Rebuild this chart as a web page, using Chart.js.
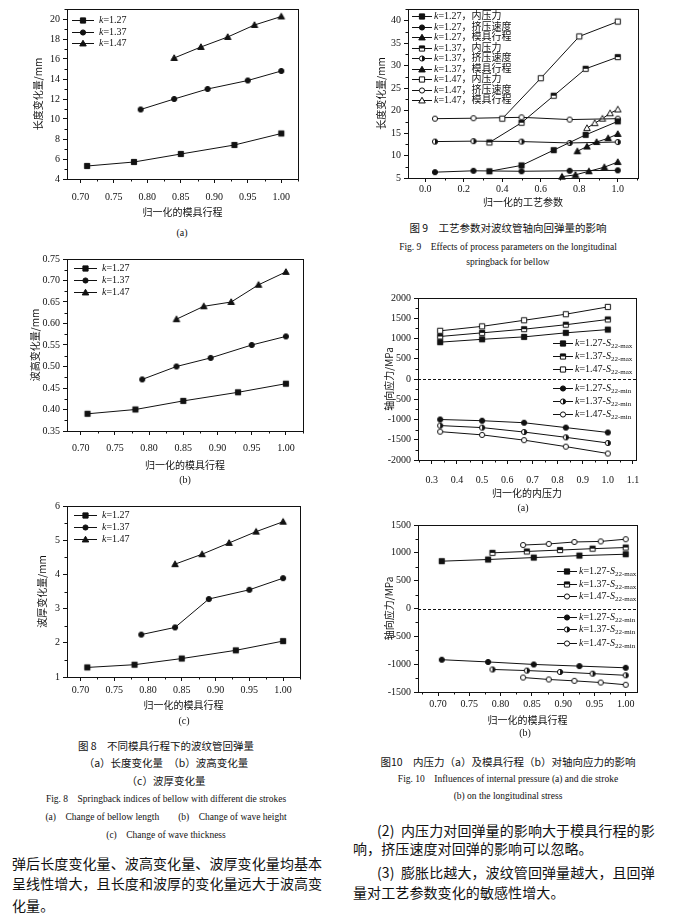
<!DOCTYPE html>
<html>
<head>
<meta charset="utf-8">
<script src="https://cdn.jsdelivr.net/npm/chart.js@4.4.0/dist/chart.umd.min.js"></script>
<style>
  body {
    margin: 0;
    width: 679px;
    height: 924px;
    position: relative;
    overflow: hidden;
    background: #fff;
    color: #111;
    font-family: 'Liberation Serif', 'Noto Sans CJK SC', serif;
  }
  canvas.chart { position: absolute; }
  .t { position: absolute; white-space: nowrap; transform: translateX(-50%); line-height: 12px; }
  .cap-cn { font-family: 'Noto Sans CJK SC', sans-serif; font-size: 10.5px; }
  .cap-en { font-size: 9.5px; }
  .sub { font-size: 10px; }
  .para { position: absolute; white-space: nowrap; font-family: 'Noto Sans CJK SC', sans-serif; font-size: 14px; line-height: 16px; letter-spacing: 0.1px; }
  .legend-item { position: absolute; display: flex; align-items: center; height: 12px; font-size: 10px; line-height: 12px; white-space: nowrap; }
  .legend-item canvas { display: block; }
  .legend-item sub { font-size: 7px; vertical-align: -2px; line-height: 0; }
</style>
</head>
<body>
<canvas class="chart" id="fig8a" width="330" height="222" style="left:0;top:0"></canvas>
<canvas class="chart" id="fig8b" width="330" height="240" style="left:0;top:240px"></canvas>
<canvas class="chart" id="fig8c" width="330" height="230" style="left:0;top:487px"></canvas>
<canvas class="chart" id="fig9" width="339" height="215" style="left:340px;top:0"></canvas>
<canvas class="chart" id="fig10a" width="339" height="220" style="left:340px;top:283px"></canvas>
<canvas class="chart" id="fig10b" width="339" height="218" style="left:340px;top:512px"></canvas>

<div class="t sub" style="left:182px;top:227px">(a)</div>
<div class="t sub" style="left:185px;top:474px">(b)</div>
<div class="t sub" style="left:184px;top:715px">(c)</div>

<div class="t cap-cn" style="left:166px;top:740px">图 8　不同模具行程下的波纹管回弹量</div>
<div class="t cap-cn" style="left:166px;top:757px">（a）长度变化量　（b）波高变化量</div>
<div class="t cap-cn" style="left:166px;top:775px">（c）波厚变化量</div>
<div class="t cap-en" style="left:166px;top:793px">Fig. 8　Springback indices of bellow with different die strokes</div>
<div class="t cap-en" style="left:166px;top:811px">(a)　Change of bellow length　　(b)　Change of wave height</div>
<div class="t cap-en" style="left:166px;top:829px">(c)　Change of wave thickness</div>

<div class="para" style="left:12px;top:855px">弹后长度变化量、波高变化量、波厚变化量均基本</div>
<div class="para" style="left:12px;top:875px">呈线性增大，且长度和波厚的变化量远大于波高变</div>
<div class="para" style="left:12px;top:897px">化量。</div>

<div class="t cap-cn" style="left:508px;top:222px">图 9　工艺参数对波纹管轴向回弹量的影响</div>
<div class="t cap-en" style="left:508px;top:241px">Fig. 9　Effects of process parameters on the longitudinal</div>
<div class="t cap-en" style="left:508px;top:256px">springback for bellow</div>

<div class="t sub" style="left:523px;top:502px">(a)</div>
<div class="t sub" style="left:525px;top:727px">(b)</div>

<div class="t cap-cn" style="left:508px;top:756px">图10　内压力（a）及模具行程（b）对轴向应力的影响</div>
<div class="t cap-en" style="left:508px;top:773px">Fig. 10　Influences of internal pressure (a) and die stroke</div>
<div class="t cap-en" style="left:508px;top:790px">(b) on the longitudinal stress</div>

<div class="para" style="left:377px;top:822px">(2)&nbsp; 内压力对回弹量的影响大于模具行程的影</div>
<div class="para" style="left:353px;top:840px">响，挤压速度对回弹的影响可以忽略。</div>
<div class="para" style="left:377px;top:864px">(3)&nbsp; 膨胀比越大，波纹管回弹量越大，且回弹</div>
<div class="para" style="left:353px;top:884px">量对工艺参数变化的敏感性增大。</div>

<script>
const SERIF = "'Liberation Serif', 'Times New Roman', serif";
const CJK = "'Noto Sans CJK SC', sans-serif";
const INK = '#111';

// Fig. 8 - normalised die stroke (x) for each expansion ratio k
const strokeK127 = [0.71, 0.78, 0.85, 0.93, 1.00];
const strokeK137 = [0.79, 0.84, 0.89, 0.95, 1.00];
const strokeK147 = [0.84, 0.88, 0.92, 0.96, 1.00];
const strokeTicks = [0.70, 0.75, 0.80, 0.85, 0.90, 0.95, 1.00];

// (a) length change /mm
const lengthK127 = [5.3, 5.7, 6.5, 7.4, 8.55];
const lengthK137 = [10.95, 12.0, 13.0, 13.85, 14.8];
const lengthK147 = [16.1, 17.2, 18.2, 19.4, 20.25];
const lengthTicks = [4, 6, 8, 10, 12, 14, 16, 18, 20];

// (b) wave height change /mm
const heightK127 = [0.39, 0.40, 0.42, 0.44, 0.46];
const heightK137 = [0.47, 0.50, 0.52, 0.55, 0.57];
const heightK147 = [0.61, 0.64, 0.65, 0.69, 0.72];
const heightTicks = [0.35, 0.40, 0.45, 0.50, 0.55, 0.60, 0.65, 0.70, 0.75];

// (c) wave thickness change /mm
const thickK127 = [1.28, 1.36, 1.54, 1.78, 2.05];
const thickK137 = [2.24, 2.45, 3.28, 3.55, 3.89];
const thickK147 = [4.30, 4.59, 4.92, 5.25, 5.54];
const thickTicks = [1, 2, 3, 4, 5, 6];

// Fig. 9 - normalised process parameter
const pressureX = [0.333, 0.5, 0.667, 0.833, 1.0];
const pressureX147 = [0.4, 0.6, 0.8, 1.0];
const speedX = [0.05, 0.25, 0.5, 0.75, 1.0];
const pressK127 = [6.5, 7.8, 11.2, 14.6, 17.6];
const speedK127 = [6.3, 6.6, 6.5, 6.6, 6.7];
const pressK137 = [12.9, 17.3, 23.3, 29.3, 31.9];
const speedK137 = [13.1, 13.2, 13.1, 12.8, 13.0];
const pressK147 = [18.2, 27.2, 36.5, 39.8];
const speedK147 = [18.2, 18.3, 18.5, 18.0, 18.2];
const paramTicks = [0.0, 0.2, 0.4, 0.6, 0.8, 1.0];
const springTicks = [5, 10, 15, 20, 25, 30, 35, 40];

// Fig. 10a - axial stress vs normalised internal pressure
const pressureTicks = [0.3, 0.4, 0.5, 0.6, 0.7, 0.8, 0.9, 1.0, 1.1];
const stressTicksA = [-2000, -1500, -1000, -500, 0, 500, 1000, 1500, 2000];
const maxPressS127 = [910, 980, 1040, 1140, 1220];
const maxPressS137 = [1050, 1140, 1230, 1340, 1470];
const maxPressS147 = [1190, 1300, 1450, 1600, 1780];
const minPressS127 = [-1000, -1030, -1080, -1200, -1320];
const minPressS137 = [-1150, -1200, -1310, -1440, -1580];
const minPressS147 = [-1300, -1380, -1510, -1670, -1840];

// Fig. 10b - axial stress vs normalised die stroke
const dieX127 = [0.706, 0.78, 0.853, 0.926, 1.0];
const dieX137 = [0.787, 0.842, 0.895, 0.947, 1.0];
const dieX147 = [0.836, 0.877, 0.918, 0.96, 1.0];
const stressTicksB = [-1500, -1000, -500, 0, 500, 1000, 1500];
const maxDieS127 = [850, 880, 915, 950, 975];
const maxDieS137 = [1000, 1025, 1050, 1075, 1095];
const maxDieS147 = [1140, 1160, 1195, 1205, 1245];
const minDieS127 = [-920, -960, -1005, -1035, -1065];
const minDieS137 = [-1095, -1115, -1140, -1170, -1200];
const minDieS147 = [-1240, -1275, -1300, -1330, -1370];

// ---- markers (filled / open / half filled) ----
function drawMarker(ctx, shape, fill, x, y, r) {
  ctx.save();
  ctx.lineWidth = 1;
  ctx.strokeStyle = INK;
  ctx.beginPath();
  if (shape === 'square') {
    ctx.rect(x - r, y - r, 2 * r, 2 * r);
  } else if (shape === 'circle') {
    ctx.arc(x, y, r, 0, Math.PI * 2);
  } else {
    const s = r * 1.25;
    ctx.moveTo(x, y - s);
    ctx.lineTo(x + s, y + s * 0.75);
    ctx.lineTo(x - s, y + s * 0.75);
    ctx.closePath();
  }
  ctx.fillStyle = fill === 'solid' ? INK : '#fff';
  ctx.fill();
  if (fill === 'half') {
    ctx.save();
    ctx.clip();
    ctx.fillStyle = INK;
    if (shape === 'circle') ctx.fillRect(x, y - r - 1, r + 1, 2 * r + 2);
    else ctx.fillRect(x - r - 1, y - r - 1, 2 * r + 2, r + 1);
    ctx.restore();
  }
  ctx.stroke();
  ctx.restore();
}

function markerCanvas(shape, fill) {
  const c = document.createElement('canvas');
  c.width = 10;
  c.height = 10;
  drawMarker(c.getContext('2d'), shape, fill, 5, 5, 2.6);
  return c;
}

function legendSymbol(shape, fill, w) {
  const c = document.createElement('canvas');
  c.width = w;
  c.height = 10;
  const ctx = c.getContext('2d');
  ctx.strokeStyle = INK;
  ctx.lineWidth = 1;
  ctx.beginPath();
  ctx.moveTo(0, 5.5);
  ctx.lineTo(w, 5.5);
  ctx.stroke();
  drawMarker(ctx, shape, fill, w / 2, 5.5, 2.6);
  return c;
}

function series(xs, ys, shape, fill) {
  return {
    data: xs.map((x, i) => ({ x: x, y: ys[i] })),
    showLine: true,
    borderColor: INK,
    borderWidth: 1,
    tension: 0,
    pointStyle: markerCanvas(shape, fill),
    pointRadius: 3,
    pointHoverRadius: 3,
    clip: false
  };
}

// box round the plot, minor ticks, dashed zero line
const framePlugin = {
  id: 'frame',
  afterDraw(chart, args, opts) {
    const ctx = chart.ctx;
    const a = chart.chartArea;
    ctx.save();
    ctx.strokeStyle = INK;
    ctx.lineWidth = 1;
    ctx.strokeRect(Math.round(a.left) + 0.5, Math.round(a.top) + 0.5,
      Math.round(a.right - a.left), Math.round(a.bottom - a.top));

    // minor ticks halfway between the labelled ones
    ['x', 'y'].forEach(id => {
      const s = chart.scales[id];
      const vals = s.ticks.map(t => t.value);
      const step = vals[1] - vals[0];
      ctx.beginPath();
      for (let v = vals[0] - step / 2; v <= s.max + 1e-9; v += step) {
        if (v < s.min - 1e-9) continue;
        const p = Math.round(s.getPixelForValue(v)) + 0.5;
        if (id === 'x') {
          ctx.moveTo(p, a.bottom);
          ctx.lineTo(p, a.bottom + 2.5);
        } else {
          ctx.moveTo(a.left, p);
          ctx.lineTo(a.left - 2.5, p);
        }
      }
      ctx.stroke();
    });

    if (opts && opts.zero) {
      const y0 = Math.round(chart.scales.y.getPixelForValue(0)) + 0.5;
      ctx.setLineDash([3, 2]);
      ctx.beginPath();
      ctx.moveTo(a.left, y0);
      ctx.lineTo(a.right, y0);
      ctx.stroke();
    }
    ctx.restore();
  }
};

function makeChart(id, cfg) {
  const ctx = document.getElementById(id).getContext('2d');
  return new Chart(ctx, {
    type: 'scatter',
    data: { datasets: cfg.datasets },
    options: {
      responsive: false,
      animation: false,
      events: [],
      layout: { padding: { left: 0, top: cfg.padTop, right: cfg.padRight, bottom: 0 } },
      plugins: {
        legend: { display: false }, // drawn as HTML below
        tooltip: { enabled: false },
        frame: { zero: !!cfg.zero }
      },
      scales: {
        x: {
          type: 'linear',
          min: cfg.xMin,
          max: cfg.xMax,
          afterBuildTicks: s => { s.ticks = cfg.xTicks.map(v => ({ value: v })); },
          afterFit: s => { s.height = cfg.xHeight; },
          grid: { display: true, drawOnChartArea: false, tickLength: 4, color: INK },
          border: { display: true, color: INK },
          ticks: {
            color: INK,
            padding: cfg.xPad,
            autoSkip: false,
            maxRotation: 0,
            font: { family: SERIF, size: 10 },
            callback: v => v.toFixed(cfg.xDigits)
          },
          title: {
            display: true,
            text: cfg.xTitle,
            color: INK,
            font: { family: CJK, size: 10 },
            padding: { top: 0, bottom: cfg.xTitlePad }
          }
        },
        y: {
          type: 'linear',
          min: cfg.yMin,
          max: cfg.yMax,
          afterBuildTicks: s => { s.ticks = cfg.yTicks.map(v => ({ value: v })); },
          afterFit: s => { s.width = cfg.yWidth; },
          grid: { display: true, drawOnChartArea: false, tickLength: 4, color: INK },
          border: { display: true, color: INK },
          ticks: {
            color: INK,
            padding: 3,
            font: { family: SERIF, size: 10 },
            callback: v => v.toFixed(cfg.yDigits)
          },
          title: {
            display: true,
            text: cfg.yTitle,
            color: INK,
            font: { family: CJK, size: 10 },
            padding: { top: cfg.yTitlePad, bottom: 0 }
          }
        }
      }
    },
    plugins: [framePlugin]
  });
}

function createLegend(left, rows, lineW, items) {
  items.forEach((item, i) => {
    const row = document.createElement('div');
    row.className = 'legend-item';
    row.style.left = left + 'px';
    row.style.top = (rows[i] - 6) + 'px';
    const sym = legendSymbol(item.shape, item.fill, lineW);
    sym.style.marginRight = item.gap + 'px';
    const label = document.createElement('span');
    label.innerHTML = item.label;
    row.appendChild(sym);
    row.appendChild(label);
    document.body.appendChild(row);
  });
}

const kLabels = ['<i>k</i>=1.27', '<i>k</i>=1.37', '<i>k</i>=1.47'];
const kMarkers = [['square', 'solid'], ['circle', 'solid'], ['triangle', 'solid']];

function fig8Datasets(a, b, c) {
  return [
    series(strokeK127, a, 'square', 'solid'),
    series(strokeK137, b, 'circle', 'solid'),
    series(strokeK147, c, 'triangle', 'solid')
  ];
}

const fig8Common = {
  padRight: 30, xMin: 0.68, xMax: 1.025, xTicks: strokeTicks, xDigits: 2,
  xTitle: '归一化的模具行程', yWidth: 67
};

makeChart('fig8a', Object.assign({}, fig8Common, {
  datasets: fig8Datasets(lengthK127, lengthK137, lengthK147),
  padTop: 9, padRight: 32, xHeight: 43, xPad: 8, xTitlePad: 4,
  yMin: 4, yMax: 21, yTicks: lengthTicks, yDigits: 0,
  yTitle: '长度变化量/mm', yTitlePad: 32
}));

makeChart('fig8b', Object.assign({}, fig8Common, {
  datasets: fig8Datasets(heightK127, heightK137, heightK147),
  padTop: 19, padRight: 27, xHeight: 49, xPad: 7, xTitlePad: 9,
  yMin: 0.35, yMax: 0.75, yTicks: heightTicks, yDigits: 2,
  yTitle: '波高变化量/mm', yTitlePad: 29
}));

makeChart('fig8c', Object.assign({}, fig8Common, {
  datasets: fig8Datasets(thickK127, thickK137, thickK147),
  padTop: 19, padRight: 30, xHeight: 40, xPad: 3, xTitlePad: 6,
  yMin: 1, yMax: 6, yTicks: thickTicks, yDigits: 0,
  yTitle: '波厚变化量/mm', yTitlePad: 36
}));

makeChart('fig9', {
  datasets: [
    series(pressureX, pressK127, 'square', 'solid'),
    series(speedX, speedK127, 'circle', 'solid'),
    series(strokeK127, lengthK127, 'triangle', 'solid'),
    series(pressureX, pressK137, 'square', 'half'),
    series(speedX, speedK137, 'circle', 'half'),
    series(strokeK137, lengthK137, 'triangle', 'solid'),
    series(pressureX147, pressK147, 'square', 'open'),
    series(speedX, speedK147, 'circle', 'open'),
    series(strokeK147, lengthK147, 'triangle', 'open')
  ],
  padTop: 7, padRight: 41, yWidth: 68, xHeight: 37, xPad: 1, xTitlePad: 7,
  xMin: -0.09, xMax: 1.105, xTicks: paramTicks, xDigits: 1,
  xTitle: '归一化的工艺参数',
  yMin: 5, yMax: 42.6, yTicks: springTicks, yDigits: 0,
  yTitle: '长度变化量/mm', yTitlePad: 35
});

makeChart('fig10a', {
  datasets: [
    series(pressureX, maxPressS127, 'square', 'solid'),
    series(pressureX, maxPressS137, 'square', 'half'),
    series(pressureX, maxPressS147, 'square', 'open'),
    series(pressureX, minPressS127, 'circle', 'solid'),
    series(pressureX, minPressS137, 'circle', 'half'),
    series(pressureX, minPressS147, 'circle', 'open')
  ],
  zero: true,
  padTop: 15, padRight: 43, yWidth: 78, xHeight: 43, xPad: 10, xTitlePad: 4,
  xMin: 0.245, xMax: 1.112, xTicks: pressureTicks, xDigits: 1,
  xTitle: '归一化的内压力',
  yMin: -2000, yMax: 2000, yTicks: stressTicksA, yDigits: 0,
  yTitle: '轴向应力/MPa', yTitlePad: 43
});

makeChart('fig10b', {
  datasets: [
    series(dieX127, maxDieS127, 'square', 'solid'),
    series(dieX137, maxDieS137, 'square', 'half'),
    series(dieX147, maxDieS147, 'circle', 'open'),
    series(dieX127, minDieS127, 'circle', 'solid'),
    series(dieX137, minDieS137, 'circle', 'half'),
    series(dieX147, minDieS147, 'circle', 'open')
  ],
  zero: true,
  padTop: 13, padRight: 42, yWidth: 78, xHeight: 38, xPad: 2, xTitlePad: 4,
  xMin: 0.668, xMax: 1.018, xTicks: strokeTicks, xDigits: 2,
  xTitle: '归一化的模具行程',
  yMin: -1500, yMax: 1500, yTicks: stressTicksB, yDigits: 0,
  yTitle: '轴向应力/MPa', yTitlePad: 43
});

// ---- legends ----
const fig8Legend = kLabels.map((label, i) => ({ shape: kMarkers[i][0], fill: kMarkers[i][1], label: label, gap: 5 }));
createLegend(72, [20, 32, 43], 22, fig8Legend);
createLegend(74, [268, 280, 292], 23, fig8Legend);
createLegend(74, [515, 527, 539], 23, fig8Legend);

const fig9Legend = [
  ['square', 'solid', '<i>k</i>=1.27，内压力'],
  ['circle', 'solid', '<i>k</i>=1.27，挤压速度'],
  ['triangle', 'solid', '<i>k</i>=1.27，模具行程'],
  ['square', 'half', '<i>k</i>=1.37，内压力'],
  ['circle', 'half', '<i>k</i>=1.37，挤压速度'],
  ['triangle', 'solid', '<i>k</i>=1.37，模具行程'],
  ['square', 'open', '<i>k</i>=1.47，内压力'],
  ['circle', 'open', '<i>k</i>=1.47，挤压速度'],
  ['triangle', 'open', '<i>k</i>=1.47，模具行程']
].map(d => ({ shape: d[0], fill: d[1], label: d[2], gap: 2 }));
createLegend(412, fig9Legend.map((d, i) => 16 + i * 10.5), 20, fig9Legend);

function stressLegend(lastMax) {
  return [
    ['square', 'solid', '<i>k</i>=1.27-<i>S</i><sub>22-max</sub>'],
    ['square', 'half', '<i>k</i>=1.37-<i>S</i><sub>22-max</sub>'],
    [lastMax, 'open', '<i>k</i>=1.47-<i>S</i><sub>22-max</sub>'],
    ['circle', 'solid', '<i>k</i>=1.27-<i>S</i><sub>22-min</sub>'],
    ['circle', 'half', '<i>k</i>=1.37-<i>S</i><sub>22-min</sub>'],
    ['circle', 'open', '<i>k</i>=1.47-<i>S</i><sub>22-min</sub>']
  ].map(d => ({ shape: d[0], fill: d[1], label: d[2], gap: 2 }));
}
createLegend(553, [343, 356, 369, 388, 401, 414], 20, stressLegend('square'));
createLegend(557, [571, 584, 596, 617, 629, 643], 20, stressLegend('circle'));
</script>
</body>
</html>
